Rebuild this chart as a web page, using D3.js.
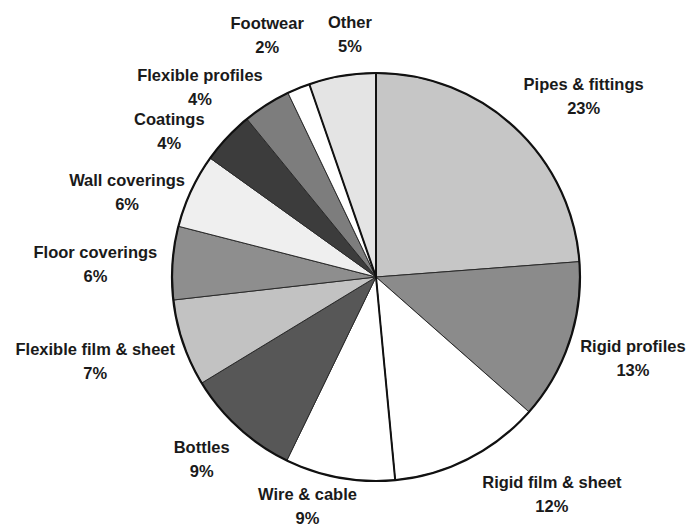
<!DOCTYPE html>
<html>
<head>
<meta charset="utf-8">
<script src="https://cdn.jsdelivr.net/npm/d3@7"></script>
<style>
  html, body { margin: 0; padding: 0; background: #fff; }
  svg { display: block; }
  text { font-family: "Liberation Sans", Arial, sans-serif; font-weight: bold; font-size: 16.5px; fill: #1a1a1a; }
</style>
</head>
<body>
<svg id="chart" width="690" height="529"></svg>
<script>
// ---- data ----
const categories = ["Pipes & fittings", "Rigid profiles", "Rigid film & sheet", "Wire & cable", "Bottles",
  "Flexible film & sheet", "Floor coverings", "Wall coverings", "Coatings", "Flexible profiles", "Footwear", "Other"];
const values = [23.8, 12.7, 12.0, 8.7, 9.1, 6.9, 5.8, 5.9, 4.2, 3.8, 1.8, 5.3];
const pctLabels = ["23%", "13%", "12%", "9%", "9%", "7%", "6%", "6%", "4%", "4%", "2%", "5%"];

// ---- style / layout ----
const colors = ["#c6c6c6", "#8b8b8b", "#ffffff", "#ffffff", "#575757", "#c2c2c2",
  "#8e8e8e", "#efefef", "#3c3c3c", "#7d7d7d", "#ffffff", "#e4e4e4"];
// label placement: angle shift (deg) from slice mid-angle, radius factor
const labelShift = [6.1, -1.1, -12, 6.4, 1.5, 2.3, -1.4, -6.1, -8, -10.4, -1.9, 3.4];
const labelRad = [1.35, 1.32, 1.37, 1.172, 1.235, 1.436, 1.377, 1.29, 1.24, 1.27, 1.30, 1.196];
const boldEdgeAfter = [2, 10, 11]; // slice indices whose end edge is drawn heavy

const svg = d3.select("#chart");
const cx = 376, cy = 277, r = 204;
const g = svg.append("g").attr("transform", `translate(${cx},${cy})`);

const data = categories.map((c, i) => ({ name: c, value: values[i], pct: pctLabels[i], i }));
const pie = d3.pie().value(d => d.value).sort(null);
const arcs = pie(data);
const arc = d3.arc().innerRadius(0).outerRadius(r);

g.selectAll("path.slice").data(arcs).enter().append("path")
  .attr("class", "slice")
  .attr("d", arc)
  .attr("fill", d => colors[d.data.i])
  .attr("stroke", "#2a2a2a")
  .attr("stroke-width", 1)
  .attr("stroke-linejoin", "round");

// heavy radial edges
boldEdgeAfter.forEach(i => {
  const a = arcs[i].endAngle;
  g.append("line")
    .attr("x1", 0).attr("y1", 0)
    .attr("x2", r * Math.sin(a)).attr("y2", -r * Math.cos(a))
    .attr("stroke", "#111").attr("stroke-width", 2);
});

// outer outline
g.append("circle").attr("r", r).attr("fill", "none").attr("stroke", "#111").attr("stroke-width", 2.2);

// labels
const lab = g.selectAll("g.lab").data(arcs).enter().append("g").attr("class", "lab")
  .attr("transform", d => {
    const i = d.data.i;
    const a = (d.startAngle + d.endAngle) / 2 + labelShift[i] * Math.PI / 180;
    const R = r * labelRad[i];
    return `translate(${R * Math.sin(a)},${-R * Math.cos(a)})`;
  });
lab.append("text").attr("text-anchor", "middle").attr("y", -12).attr("dy", "0.36em").text(d => d.data.name);
lab.append("text").attr("text-anchor", "middle").attr("y", 12).attr("dy", "0.36em").text(d => d.data.pct);
</script>
</body>
</html>
